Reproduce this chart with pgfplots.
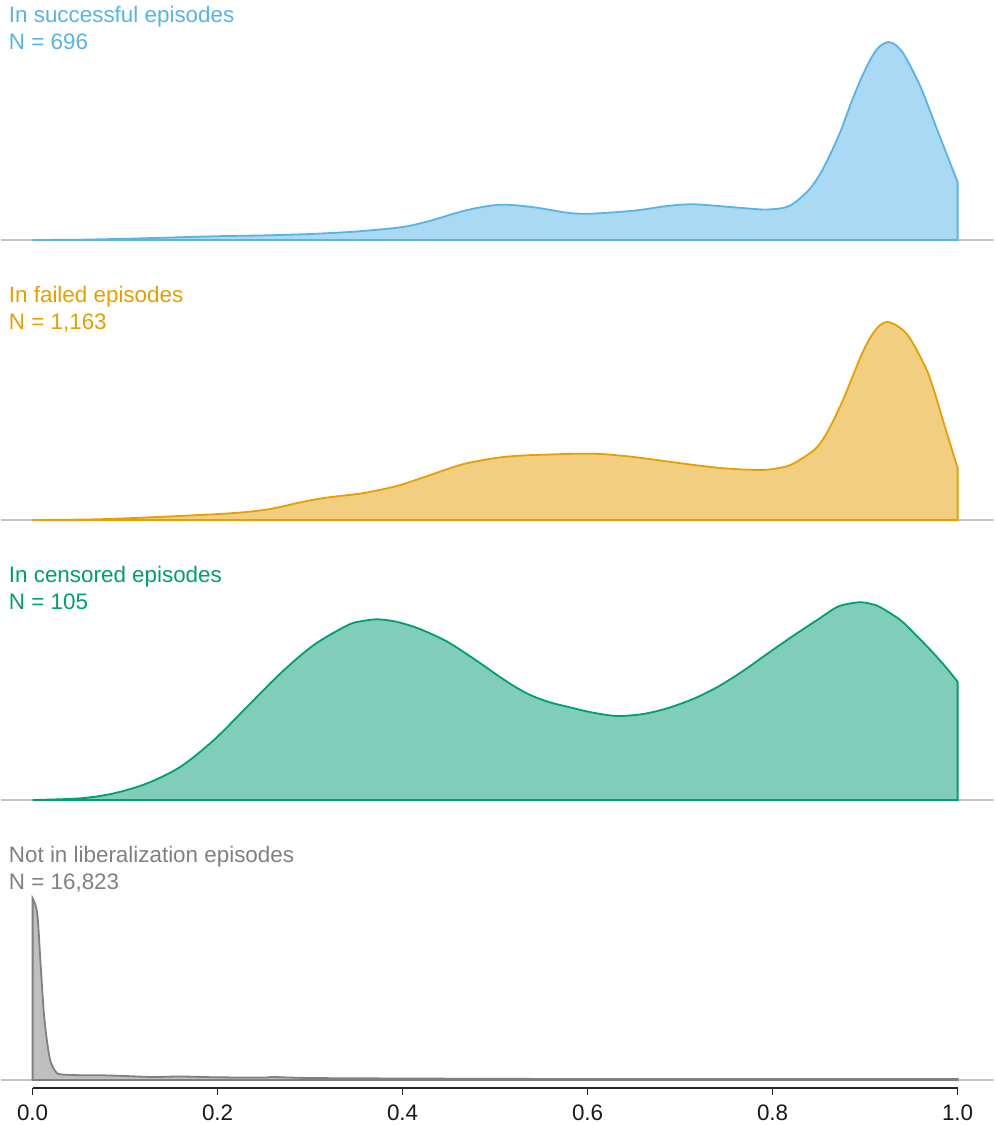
\documentclass[border=0pt]{standalone}
\usepackage{fontspec}
\setmainfont{Liberation Sans}
\usepackage{pgfplots}
\usepackage{pgfplotstable}
\pgfplotsset{compat=1.18}

\definecolor{blueC}{HTML}{56B4E9}
\definecolor{orangeC}{HTML}{E69F00}
\definecolor{greenC}{HTML}{009E73}
\definecolor{grayC}{HTML}{808080}
\definecolor{baseC}{HTML}{C4C4C4}

% density heights (in picture units above each baseline)
\pgfplotstableread{
x h
0.000 0
0.050 0.3
0.100 1.2
0.150 2.5
0.200 3.8
0.250 4.6
0.300 6
0.350 8.5
0.400 13
0.430 19.3
0.470 30
0.506 35.3
0.542 32.7
0.578 27.3
0.603 26.3
0.650 29.3
0.686 34
0.715 35.7
0.758 32.7
0.790 30.5
0.809 31.7
0.820 35
0.830 42
0.841 52
0.852 67
0.863 87
0.874 110
0.884 135
0.895 160
0.906 181
0.915 193
0.925 198
0.933 195
0.941 187
0.950 172
0.960 153
0.969 132
0.978 110
0.989 84
1.000 58
}\succ

\pgfplotstableread{
x h
0.000 0
0.070 0.7
0.142 3.3
0.214 6.7
0.250 10
0.270 13.5
0.286 17
0.304 20.3
0.322 22.9
0.358 27
0.395 34.3
0.430 45
0.466 56
0.503 62.3
0.530 64.5
0.560 65.5
0.590 66.3
0.614 66
0.640 64
0.661 61.7
0.715 55
0.750 51.5
0.788 50
0.810 52.5
0.823 56.7
0.845 70
0.856 83
0.866 100
0.877 122
0.888 147
0.897 167
0.906 183
0.915 194
0.924 198
0.935 194
0.946 185
0.957 168
0.968 147
0.977 122
0.985 97
1.000 52
}\failed

\pgfplotstableread{
x h
0.000 0
0.052 1.7
0.088 6.7
0.124 16.7
0.160 33.3
0.196 60
0.232 93.3
0.268 126.7
0.304 155
0.341 175
0.357 179
0.373 180.7
0.392 178.5
0.412 173.3
0.430 166.5
0.448 158.5
0.466 148
0.486 135.5
0.506 122.5
0.522 113
0.538 105
0.558 98
0.578 93.3
0.605 87.5
0.632 84
0.660 86
0.686 91.7
0.714 101
0.741 113.3
0.768 129
0.795 146.7
0.822 164
0.849 180.5
0.871 193.5
0.893 197.7
0.905 196.4
0.916 193
0.938 180
0.956 164
0.974 146.7
0.988 132
1.000 118.3
}\censored

\pgfplotstableread{
x h
0.000 181.7
0.005 166.7
0.0086 116.7
0.0122 66.7
0.0159 36.7
0.0195 18.3
0.025 8.3
0.030 5.7
0.050 4.8
0.074 4.7
0.100 4
0.130 3
0.160 3.5
0.200 2.7
0.250 2.5
0.260 3
0.300 2
0.400 1.5
0.500 1.2
0.600 1
0.800 1
1.000 1
}\notin

\begin{document}
\begin{tikzpicture}[font=\fontsize{11.2}{13.4}\selectfont]
\begin{axis}[
  scale only axis,
  width=496.5pt, height=544pt,
  xmin=-0.034595, xmax=1.038919,
  ymin=-1088, ymax=0,
  axis y line=none,
  axis x line*=bottom,
  x axis line style={draw=none},
  tick align=outside,
  major tick length=3.5pt,
  xtick={0,0.2,0.4,0.6,0.8,1},
  xticklabels={0.0,0.2,0.4,0.6,0.8,1.0},
  xtick style={black!85, line width=0.6pt},
  xticklabel style={text=black!90, inner sep=0pt, yshift=-4.5pt},
  /pgf/number format/assume math mode=true,
  clip=false,
]
  % frame of the whole picture
  \path (axis cs:-0.034595,0) -- (axis cs:1.038919,-1125);
  % baselines
  \draw[baseC, line width=0.6pt] (axis cs:-0.034595,-240) -- (axis cs:1.038919,-240);
  \draw[baseC, line width=0.6pt] (axis cs:-0.034595,-520) -- (axis cs:1.038919,-520);
  \draw[baseC, line width=0.6pt] (axis cs:-0.034595,-800) -- (axis cs:1.038919,-800);
  \draw[baseC, line width=0.6pt] (axis cs:-0.034595,-1080) -- (axis cs:1.038919,-1080);
  \draw[black!85, line width=0.6pt] (axis cs:0,-1088) -- (axis cs:1,-1088);

  \addplot[smooth, blueC, line width=0.9pt, fill=blueC!50] table[x=x, y expr=\thisrow{h}-240] {\succ} |- (axis cs:0,-240) -- cycle;
  \addplot[smooth, orangeC, line width=0.9pt, fill=orangeC!50] table[x=x, y expr=\thisrow{h}-520] {\failed} |- (axis cs:0,-520) -- cycle;
  \addplot[smooth, greenC, line width=0.9pt, fill=greenC!50] table[x=x, y expr=\thisrow{h}-800] {\censored} |- (axis cs:0,-800) -- cycle;
  \addplot[smooth, grayC, line width=0.9pt, fill=grayC!50] table[x=x, y expr=\thisrow{h}-1080] {\notin} |- (axis cs:0,-1080) -- cycle;

  % panel titles
  \node[anchor=base west, inner sep=0, text=blueC] at (axis cs:-0.026,-22.7) {In successful episodes};
  \node[anchor=base west, inner sep=0, text=blueC] at (axis cs:-0.026,-49.3) {N = 696};
  \node[anchor=base west, inner sep=0, text=orangeC] at (axis cs:-0.026,-302.7) {In failed episodes};
  \node[anchor=base west, inner sep=0, text=orangeC] at (axis cs:-0.026,-329.3) {N = 1,163};
  \node[anchor=base west, inner sep=0, text=greenC] at (axis cs:-0.026,-582.7) {In censored episodes};
  \node[anchor=base west, inner sep=0, text=greenC] at (axis cs:-0.026,-609.3) {N = 105};
  \node[anchor=base west, inner sep=0, text=grayC] at (axis cs:-0.026,-862.7) {Not in liberalization episodes};
  \node[anchor=base west, inner sep=0, text=grayC] at (axis cs:-0.026,-889.3) {N = 16,823};
\end{axis}
\end{tikzpicture}
\end{document}
